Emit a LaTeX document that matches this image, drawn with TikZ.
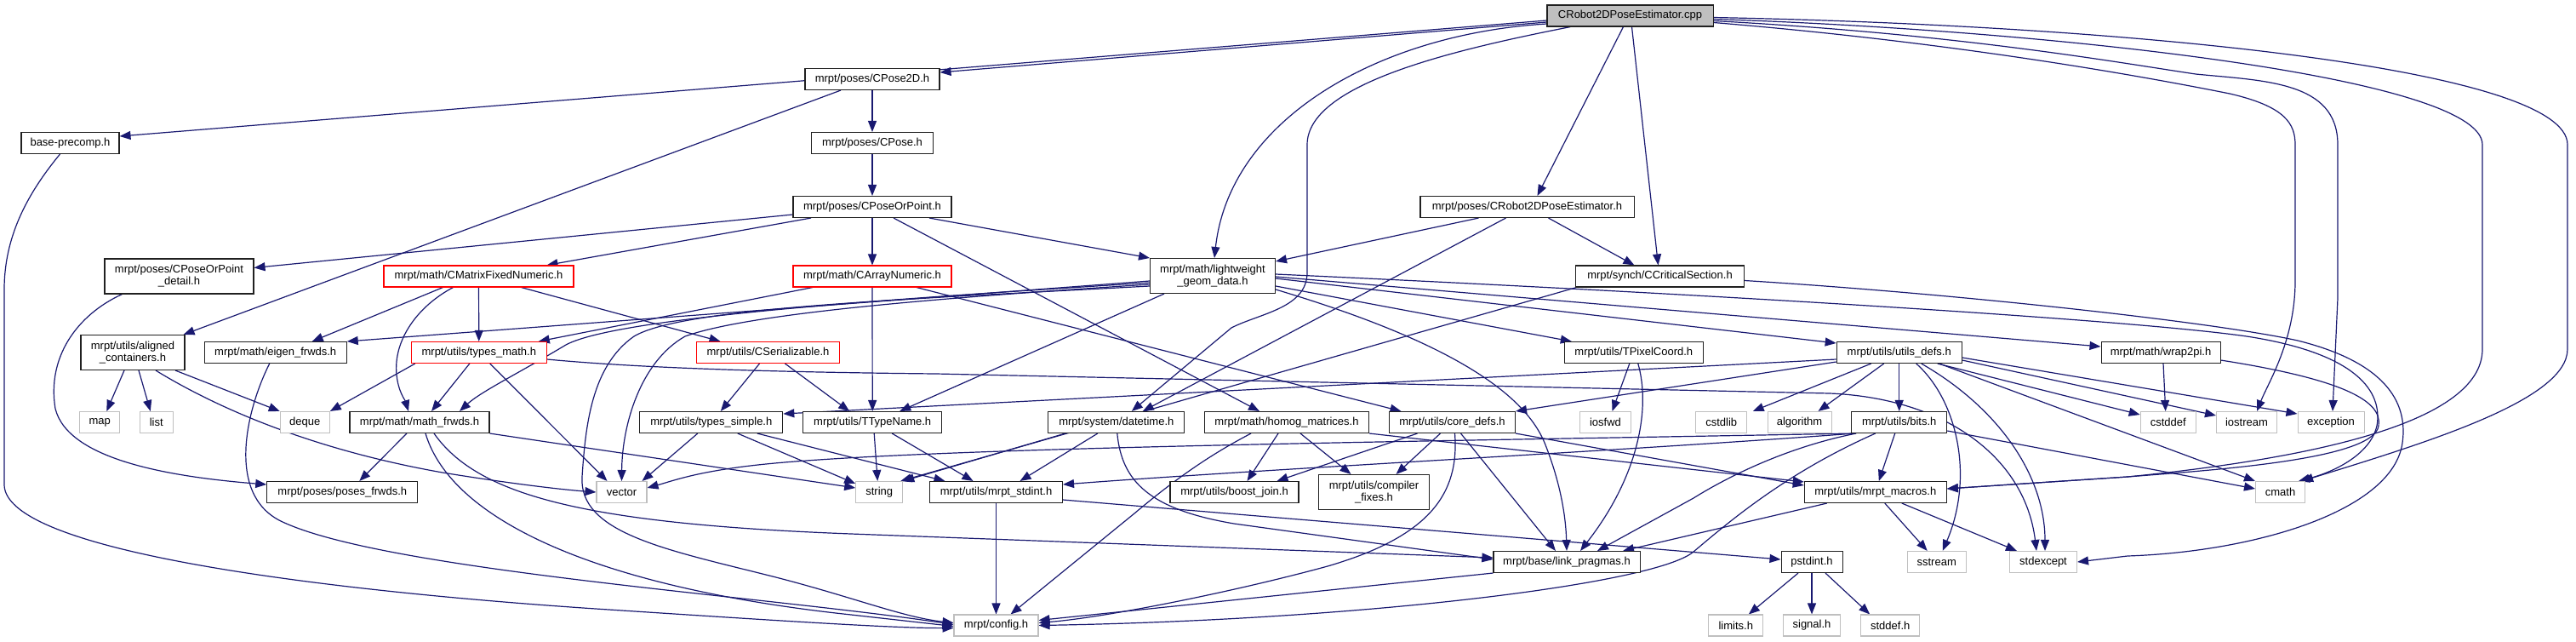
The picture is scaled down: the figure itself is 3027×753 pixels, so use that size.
\documentclass[tikz,border=0pt]{standalone}
\usepackage{fontspec}
\setmainfont{Liberation Sans}
\usetikzlibrary{arrows.meta}
\definecolor{edgec}{HTML}{191970}
\definecolor{extgray}{HTML}{BFBFBF}
\definecolor{rootfill}{HTML}{BFBFBF}
\definecolor{boxline}{HTML}{202020}
\pgfdeclarelayer{background}
\pgfsetlayers{background,main}
\begin{document}
\begin{tikzpicture}[x=1pt,y=-1pt,
  box/.style={draw=boxline,fill=white,line width=1.05pt,inner sep=0pt,minimum height=25pt,align=center,font=\fontsize{13}{14}\selectfont,text=black},
  redbox/.style={box,draw=red},
  ext/.style={box,draw=extgray},
  e/.style={draw=edgec,line width=1.2pt,-{Triangle[length=13pt,width=10pt]}}]
\useasboundingbox (0,0) rectangle (3027,753);

\node[box,fill=rootfill,minimum width=195pt] (R) at (1915.5,18.5) {CRobot2DPoseEstimator.cpp};
\node[box,minimum width=158pt] (CP2) at (1025,93) {mrpt/poses/CPose2D.h};
\node[box,minimum width=143pt] (CP) at (1025,168) {mrpt/poses/CPose.h};
\node[box,minimum width=186pt] (CPP) at (1025,243) {mrpt/poses/CPoseOrPoint.h};
\node[box,minimum width=115pt] (base) at (82.5,168) {base-precomp.h};
\node[box,minimum width=251pt] (CRH) at (1794.5,243) {mrpt/poses/CRobot2DPoseEstimator.h};
\node[box,minimum width=175pt,minimum height=41pt] (det) at (210.5,324.5) {mrpt/poses/CPoseOrPoint\\\_detail.h};
\node[redbox,minimum width=223pt] (CMF) at (562.5,324.5) {mrpt/math/CMatrixFixedNumeric.h};
\node[redbox,minimum width=186pt] (CAN) at (1025,324.5) {mrpt/math/CArrayNumeric.h};
\node[box,minimum width=147pt,minimum height=41pt] (LW) at (1425,324) {mrpt/math/lightweight\\\_geom\_data.h};
\node[box,minimum width=198pt] (CCS) at (1950.5,324.5) {mrpt/synch/CCriticalSection.h};
\node[box,minimum width=122pt,minimum height=41pt] (AC) at (156,414) {mrpt/utils/aligned\\\_containers.h};
\node[box,minimum width=167pt] (EF) at (323.7,414) {mrpt/math/eigen\_frwds.h};
\node[redbox,minimum width=159pt] (TM) at (562.8,414) {mrpt/utils/types\_math.h};
\node[redbox,minimum width=168pt] (CS) at (902.5,414) {mrpt/utils/CSerializable.h};
\node[box,minimum width=163pt] (TPC) at (1919.8,414) {mrpt/utils/TPixelCoord.h};
\node[box,minimum width=147pt] (UD) at (2231.7,414) {mrpt/utils/utils\_defs.h};
\node[box,minimum width=140pt] (W2) at (2539,414) {mrpt/math/wrap2pi.h};
\node[ext,minimum width=47pt] (map) at (117.3,496) {map};
\node[ext,minimum width=39pt] (list) at (183.8,496) {list};
\node[ext,minimum width=58pt] (deque) at (358.3,496) {deque};
\node[box,minimum width=164pt] (MF) at (493,496) {mrpt/math/math\_frwds.h};
\node[box,minimum width=168pt] (TS) at (835.8,496) {mrpt/utils/types\_simple.h};
\node[box,minimum width=163pt] (TTN) at (1025.2,496) {mrpt/utils/TTypeName.h};
\node[box,minimum width=160pt] (DT) at (1311.8,496) {mrpt/system/datetime.h};
\node[box,minimum width=193pt] (HM) at (1512,496) {mrpt/math/homog\_matrices.h};
\node[box,minimum width=148pt] (CD) at (1706.5,496) {mrpt/utils/core\_defs.h};
\node[ext,minimum width=60pt] (iosfwd) at (1886.5,496) {iosfwd};
\node[ext,minimum width=60pt] (cstdlib) at (2022.7,496) {cstdlib};
\node[ext,minimum width=75pt] (algorithm) at (2114.5,496) {algorithm};
\node[box,minimum width=112pt] (bits) at (2231.7,496) {mrpt/utils/bits.h};
\node[ext,minimum width=65pt] (cstddef) at (2547.7,496) {cstddef};
\node[ext,minimum width=71pt] (iostream) at (2640,496) {iostream};
\node[ext,minimum width=78pt] (exception) at (2739,496) {exception};
\node[box,minimum width=177pt] (PF) at (402.3,578) {mrpt/poses/poses\_frwds.h};
\node[ext,minimum width=59pt] (vector) at (730.5,578) {vector};
\node[ext,minimum width=55pt] (string) at (1033.2,578) {string};
\node[box,minimum width=156pt] (MS) at (1170.5,578) {mrpt/utils/mrpt\_stdint.h};
\node[box,minimum width=151pt] (BJ) at (1450.5,578) {mrpt/utils/boost\_join.h};
\node[box,minimum width=130pt,minimum height=41pt] (CF) at (1614.5,578) {mrpt/utils/compiler\\\_fixes.h};
\node[box,minimum width=167pt] (MM) at (2203.8,578) {mrpt/utils/mrpt\_macros.h};
\node[ext,minimum width=58pt] (cmath) at (2679.5,578) {cmath};
\node[box,minimum width=172pt] (LP) at (1841,660) {mrpt/base/link\_pragmas.h};
\node[box,minimum width=72pt] (pstdint) at (2129,660) {pstdint.h};
\node[ext,minimum width=69pt] (sstream) at (2275.7,660) {sstream};
\node[ext,minimum width=79pt] (stdexcept) at (2401,660) {stdexcept};
\node[ext,minimum width=99pt] (config) at (1170.5,734.5) {mrpt/config.h};
\node[ext,minimum width=64pt] (limits) at (2039.8,734.5) {limits.h};
\node[ext,minimum width=67pt] (signal) at (2129,734.5) {signal.h};
\node[ext,minimum width=69pt] (stddef) at (2221.2,734.5) {stddef.h};

\begin{pgfonlayer}{background}
% root
\draw[e] ([yshift=-5.5pt]R.west) -- ([yshift=8pt]base.east);
\draw[e] ([yshift=-7.5pt]R.west) -- ([yshift=8pt]CP2.east);
\draw[e] ([yshift=-9.5pt]R.west) .. controls (1620,40) and (1445,140) .. ([xshift=2pt]LW.north);
\draw[e] ([xshift=-70pt]R.south) .. controls (1700,60) and (1536,100) .. (1536,170) -- (1536,320) .. controls (1536,362) and (1480,368) .. (1447,385) -- ([xshift=18pt]DT.north);
\draw[e] ([xshift=-8pt]R.south) -- ([xshift=12pt]CRH.north);
\draw[e] ([xshift=2pt]R.south) -- ([xshift=-2pt]CCS.north);
\draw[e] ([yshift=-8pt]R.east) .. controls (2300,50) and (2520,90) .. (2620,110) .. controls (2685,125) and (2697,145) .. (2697,170) -- (2697,330) .. controls (2697,400) and (2665,450) .. ([xshift=12pt]iostream.north);
\draw[e] ([yshift=-6pt]R.east) .. controls (2300,40) and (2480,72) .. (2580,87) .. controls (2660,95) and (2747,95) .. (2747,170) -- (2747,350) -- ([xshift=2pt]exception.north);
\draw[e] ([yshift=-4pt]R.east) .. controls (2400,35) and (2917,90) .. (2917,170) -- (2917,410) .. controls (2917,500) and (2700,540) .. (2500,560) -- ([yshift=4pt]MM.east);
\draw[e] ([yshift=-2pt]R.east) .. controls (2500,30) and (3017,80) .. (3017,170) -- (3017,410) .. controls (3017,470) and (2850,520) .. ([xshift=-4pt]cmath.north east);
% CRobot2DPoseEstimator.h
\draw[e] ([xshift=-57pt]CRH.south) -- ([yshift=17pt]LW.east);
\draw[e] ([xshift=-25pt]CRH.south) -- ([xshift=31pt]DT.north);
\draw[e] ([xshift=25pt]CRH.south) -- ([xshift=-30pt]CCS.north);
% poses
\draw[e] (CP2) -- (CP);
\draw[e] ([xshift=-37pt]CP2.south) -- ([xshift=-2pt]AC.north east);
\draw[e] (CP) -- (CPP);
\draw[e] ([yshift=-9pt]CPP.west) -- ([yshift=10pt]det.east);
\draw[e] ([xshift=-72pt]CPP.south) -- ([xshift=80pt]CMF.north);
\draw[e] (CPP) -- (CAN);
\draw[e] ([xshift=67pt]CPP.south) -- (LW.north west);
\draw[e] ([xshift=25pt]CPP.south) -- ([xshift=-32pt]HM.north);
\draw[e] ([xshift=-67pt]det.south) .. controls (90,370) and (55,420) .. (65,480) .. controls (80,540) and (200,560) .. ([yshift=9pt]PF.west);
% CMatrixFixedNumeric
\draw[e] ([xshift=-42pt]CMF.south) -- ([xshift=43pt]EF.north);
\draw[e] ([xshift=-30pt]CMF.south) .. controls (490,360) and (462,400) .. (466,440) .. controls (468,460) and (476,470) .. ([xshift=-13pt]MF.north);
\draw[e] (CMF) -- (TM);
\draw[e] ([xshift=50pt]CMF.south) -- ([xshift=-56pt]CS.north);
% CArrayNumeric
\draw[e] (CAN) -- (TTN);
\draw[e] ([xshift=-70pt]CAN.south) -- ([xshift=70pt]TM.north);
\draw[e] ([xshift=52pt]CAN.south) -- ([xshift=-60pt]CD.north);
% lightweight_geom_data
\draw[e] ([yshift=-6pt]LW.west) -- (EF.north east);
\draw[e] ([yshift=-8pt]LW.west) .. controls (1100,348) and (730,370) .. (665,405) .. controls (610,438) and (565,460) .. ([xshift=47pt]MF.north);
\draw[e] ([yshift=-10pt]LW.west) .. controls (1100,350) and (880,368) .. (805,395) .. controls (752,425) and (731,500) .. (vector.north);
\draw[e] ([yshift=-12pt]LW.west) .. controls (1050,352) and (800,362) .. (745,395) .. controls (695,430) and (688,500) .. (684,560) .. controls (680,625) and (780,645) .. (900,675) .. controls (1000,700) and (1060,725) .. ([yshift=3pt]config.west);
\draw[e] ([xshift=-57pt]LW.south) -- ([xshift=32pt]TTN.north);
\draw[e] ([yshift=-16pt]LW.east) .. controls (1700,400) and (1790,460) .. (1815,520) .. controls (1835,570) and (1840,610) .. (LP.north);
\draw[e] ([yshift=-12pt]LW.east) -- ([xshift=-73pt]TPC.north);
\draw[e] ([yshift=-3pt]LW.east) -- ([yshift=11pt]UD.west);
\draw[e] ([yshift=-1pt]LW.east) -- ([yshift=7pt]W2.west);
\draw[e] ([yshift=2pt]LW.east) .. controls (2000,345) and (2500,375) .. (2640,395) .. controls (2770,415) and (2800,460) .. (2793,500) .. controls (2785,535) and (2740,555) .. ([xshift=-8pt]cmath.north east);
% CCriticalSection
\draw[e] ([xshift=-98pt]CCS.south) -- ([xshift=-3pt]string.north east);
\draw[e] ([yshift=-5pt]CCS.east) .. controls (2300,345) and (2600,378) .. (2700,400) .. controls (2800,425) and (2830,470) .. (2823,520) .. controls (2812,600) and (2650,648) .. (2500,653) -- (stdexcept.east);
% aligned_containers
\draw[e] ([xshift=-10pt]AC.south) -- ([xshift=8pt]map.north);
\draw[e] ([xshift=7pt]AC.south) -- ([xshift=-7pt]list.north);
\draw[e] ([xshift=50pt]AC.south) -- (deque.north west);
\draw[e] ([xshift=27pt]AC.south) .. controls (240,470) and (350,525) .. (520,555) .. controls (600,568) and (660,575) .. (vector.west);
% eigen_frwds
\draw[e] ([xshift=-7pt]EF.south) .. controls (290,480) and (265,580) .. (330,612) .. controls (450,670) and (900,700) .. ([yshift=1pt]config.west);
% types_math
\draw[e] ([xshift=5pt]TM.south west) -- (deque.north east);
\draw[e] ([xshift=-11pt]TM.south) -- ([xshift=14pt]MF.north);
\draw[e] ([xshift=13pt]TM.south) -- ([xshift=-17pt]vector.north);
\draw[e] ([yshift=-8pt]TM.east) .. controls (750,432) and (900,437) .. (1100,439) -- (2150,462) .. controls (2290,468) and (2380,540) .. ([xshift=-8pt]stdexcept.north);
% CSerializable
\draw[e] ([xshift=-10pt]CS.south) -- ([xshift=11pt]TS.north);
\draw[e] ([xshift=20pt]CS.south) -- ([xshift=-27pt]TTN.north);
% TPixelCoord
\draw[e] ([xshift=-5pt]TPC.south) -- ([xshift=8pt]iosfwd.north);
\draw[e] ([xshift=5pt]TPC.south) .. controls (1940,480) and (1925,560) .. ([xshift=16pt]LP.north);
% utils_defs
\draw[e] ([yshift=-8pt]UD.west) -- ([yshift=10pt]TS.east);
\draw[e] ([yshift=-11pt]UD.west) -- (CD.north east);
\draw[e] ([xshift=-33pt]UD.south) -- ([xshift=37pt]cstdlib.north);
\draw[e] ([xshift=-18pt]UD.south) -- ([xshift=22pt]algorithm.north);
\draw[e] (UD) -- (bits);
\draw[e] ([xshift=20pt]UD.south) .. controls (2300,470) and (2320,560) .. ([xshift=7pt]sstream.north);
\draw[e] ([xshift=26pt]UD.south) .. controls (2350,480) and (2403,560) .. ([xshift=2pt]stdexcept.north);
\draw[e] ([xshift=45pt]UD.south) -- ([yshift=9pt]cstddef.west);
\draw[e] ([xshift=47pt]UD.south) -- (cmath.north west);
\draw[e] ([yshift=-9pt]UD.east) -- ([yshift=8pt]iostream.west);
\draw[e] ([yshift=-6pt]UD.east) -- ([yshift=10pt]exception.west);
% wrap2pi
\draw[e] ([xshift=3pt]W2.south) -- ([xshift=-3pt]cstddef.north);
\draw[e] ([yshift=-9pt]W2.east) .. controls (2750,445) and (2800,470) .. (2795,500) .. controls (2790,540) and (2600,552) .. (2500,560) -- ([yshift=4pt]MM.east);
% math_frwds
\draw[e] ([xshift=-15pt]MF.south) -- ([xshift=20pt]PF.north);
\draw[e] (MF.south east) -- ([yshift=5pt]string.west);
\draw[e] ([xshift=7pt]MF.south) .. controls (530,610) and (700,690) .. (1000,722) -- ([yshift=-1pt]config.west);
\draw[e] ([xshift=17pt]MF.south) .. controls (560,580) and (680,615) .. (1000,627) -- ([yshift=5pt]LP.west);
% types_simple
\draw[e] ([xshift=-16pt]TS.south) -- ([xshift=24pt]vector.north);
\draw[e] ([xshift=31pt]TS.south) -- ([yshift=-3pt]string.north west);
\draw[e] ([xshift=54pt]TS.south) -- ([xshift=-60pt]MS.north);
% TTypeName
\draw[e] ([xshift=2pt]TTN.south) -- ([xshift=-2pt]string.north);
\draw[e] ([xshift=23pt]TTN.south) -- ([xshift=-27pt]MS.north);
% datetime
\draw[e] ([xshift=-60pt]DT.south) -- (string.north east);
\draw[e] ([xshift=-22pt]DT.south) -- ([xshift=28pt]MS.north);
\draw[e] ([xshift=1pt]DT.south) .. controls (1318,565) and (1350,598) .. (1450,615) -- ([yshift=3pt]LP.west);
% homog_matrices
\draw[e] ([xshift=-42pt]HM.south) .. controls (1430,530) and (1390,555) .. (1333,603) -- ([xshift=17pt]config.north);
\draw[e] ([xshift=-10pt]HM.south) -- ([xshift=15pt]BJ.north);
\draw[e] ([xshift=16pt]HM.south) -- ([xshift=-27pt]CF.north);
\draw[e] (HM.south east) -- ([yshift=-1pt]MM.north west);
% core_defs
\draw[e] ([xshift=-41pt]CD.south) -- ([xshift=50pt]BJ.north);
\draw[e] ([xshift=-14pt]CD.south) -- ([xshift=26pt]CF.north);
\draw[e] ([xshift=3pt]CD.south) .. controls (1715,580) and (1680,630) .. (1560,665) .. controls (1450,695) and (1300,725) .. ([yshift=3pt]config.east);
\draw[e] ([xshift=10pt]CD.south) -- ([xshift=-13pt]LP.north);
\draw[e] (CD.south east) -- ([yshift=8pt]MM.west);
% bits
\draw[e] ([xshift=2pt]bits.south west) .. controls (1700,518) and (1100,525) .. (900,545) .. controls (820,553) and (790,565) .. ([yshift=5pt]vector.east);
\draw[e] ([xshift=4pt]bits.south west) .. controls (1900,530) and (1500,550) .. ([yshift=9pt]MS.east);
\draw[e] ([xshift=6pt]bits.south west) .. controls (2100,525) and (2030,560) .. (1990,585) -- ([xshift=36pt]LP.north);
\draw[e] ([xshift=-28pt]bits.south) .. controls (2100,555) and (2035,610) .. (1990,648) .. controls (1945,686) and (1600,728) .. (config.east);
\draw[e] ([xshift=-5pt]bits.south) -- ([xshift=4pt]MM.north);
\draw[e] ([yshift=-10pt]bits.east) -- ([yshift=4pt]cmath.west);
% mrpt_stdint
\draw[e] (MS) -- (config);
\draw[e] ([yshift=-9pt]MS.east) -- ([yshift=3pt]pstdint.west);
% mrpt_macros
\draw[e] ([xshift=-57pt]MM.south) -- ([xshift=66pt]LP.north);
\draw[e] ([xshift=11pt]MM.south) -- ([xshift=-11pt]sstream.north);
\draw[e] ([xshift=31pt]MM.south) -- ([xshift=-31pt]stdexcept.north);
% link_pragmas
\draw[e] (LP.south west) -- ([yshift=6pt]config.east);
% pstdint
\draw[e] ([xshift=-16pt]pstdint.south) -- ([xshift=15pt]limits.north);
\draw[e] (pstdint) -- (signal);
\draw[e] ([xshift=16pt]pstdint.south) -- ([xshift=-24pt]stddef.north);
% base-precomp
\draw[e] ([xshift=-12pt]base.south) .. controls (30,230) and (5,280) .. (5,340) -- (5,570) .. controls (8,650) and (400,695) .. (700,715) .. controls (900,728) and (1050,738) .. ([yshift=-3pt]config.west);
\end{pgfonlayer}
\end{tikzpicture}
\end{document}
